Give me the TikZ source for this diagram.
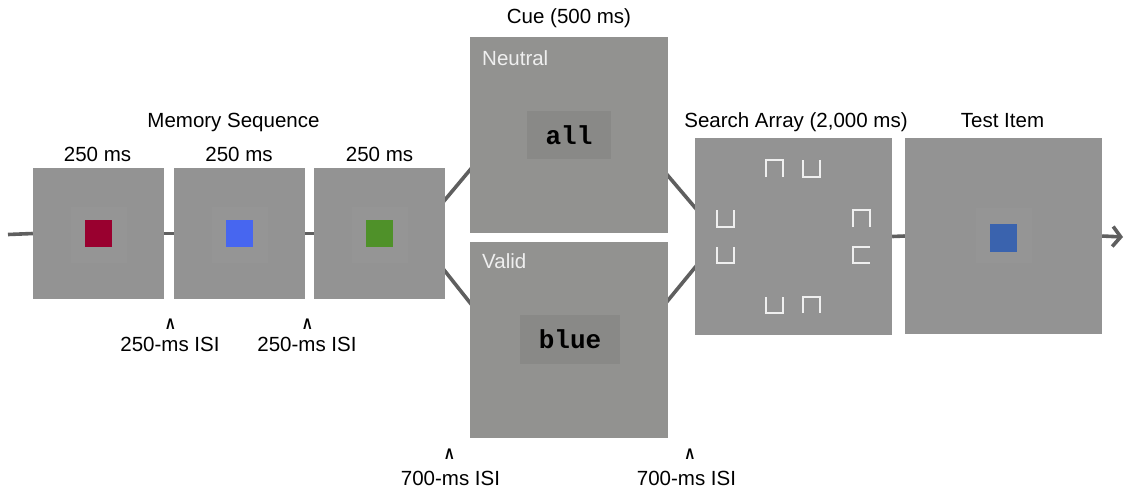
\documentclass[tikz,border=0pt]{standalone}
\usepackage{fontspec}
\setmainfont{Liberation Sans}
\newfontfamily\monob{Liberation Mono}
\newfontfamily\caretfont{DejaVu Sans}
\usetikzlibrary{arrows.meta,backgrounds}
\definecolor{panelgray}{HTML}{939393}
\definecolor{cuegray}{HTML}{929290}
\definecolor{innergray}{HTML}{959595}
\definecolor{wordgray}{HTML}{898987}
\definecolor{linegray}{HTML}{5F5F5F}
\definecolor{memred}{HTML}{99002F}
\definecolor{memblue}{HTML}{4766F0}
\definecolor{memgreen}{HTML}{4F9129}
\definecolor{testblue}{HTML}{3A63AE}
\definecolor{symwhite}{HTML}{EFEFEF}
\begin{document}
\begin{tikzpicture}[x=1pt,y=-1pt,
  panel/.style={rectangle,fill=panelgray,inner sep=0pt,minimum width=131pt,minimum height=131pt},
  bigpanel/.style={rectangle,fill=panelgray,inner sep=0pt,minimum width=197pt,minimum height=197pt},
  cuepanel/.style={rectangle,fill=cuegray,inner sep=0pt,minimum width=198pt,minimum height=196pt},
  innersq/.style={rectangle,fill=innergray,inner sep=0pt,minimum width=56pt,minimum height=56pt},
  patch/.style={rectangle,fill=#1,inner sep=0pt,minimum width=27pt,minimum height=27pt},
  wordbox/.style={rectangle,fill=wordgray,inner sep=0pt,minimum height=48pt},
  lbl/.style={inner sep=0pt,anchor=base,font=\fontsize{20.5}{24}\selectfont},
  caret/.style={inner sep=0pt,anchor=base,font=\caretfont\bfseries\fontsize{14.5}{16}\selectfont},
  cuelbl/.style={inner sep=0pt,anchor=base west,text=symwhite,font=\fontsize{20.5}{24}\selectfont},
  word/.style={inner sep=0pt,font=\monob\bfseries\fontsize{26}{28}\selectfont},
  conn/.style={draw=linegray,line width=3.6pt},
  sym/.style={draw=symwhite,line width=1.8pt}]
\useasboundingbox (0,0) rectangle (1125,488);

% memory sequence
\node[panel] (m1) at (98.5,233.5) {};
\node[panel] (m2) at (239.5,233.5) {};
\node[panel] (m3) at (379.5,233.5) {};
\node[innersq] (i1) at (98.5,234.5) {};
\node[innersq] (i2) at (239.5,234.5) {};
\node[innersq] (i3) at (379.5,234.5) {};
\node[patch=memred] (p1) at (98.5,233.5) {};
\node[patch=memblue] (p2) at (239.5,233.5) {};
\node[patch=memgreen] (p3) at (379.5,233.5) {};

\node[lbl] (memt) at (233.5,127) {Memory Sequence};
\node[lbl] (d1) at (97.5,161.5) {250 ms};
\node[lbl] (d2) at (239,161.5) {250 ms};
\node[lbl] (d3) at (379.5,161.5) {250 ms};

\node[caret] (c1) at (170.5,329) {\scalebox{0.72}[1]{Λ}};
\node[lbl] (isi1) at (170,351.5) {250-ms ISI};
\node[caret] (c2) at (307.5,329) {\scalebox{0.72}[1]{Λ}};
\node[lbl] (isi2) at (307,351.5) {250-ms ISI};

% cue
\node[cuepanel] (neu) at (568.5,135) {};
\node[cuepanel] (val) at (569,340) {};
\node[lbl] (cuet) at (569,23) {Cue (500 ms)};
\node[cuelbl] (neut) at (482,65) {Neutral};
\node[cuelbl] (valt) at (482,268.5) {Valid};
\node[wordbox,minimum width=84pt] (wa) at (569,135) {};
\node[wordbox,minimum width=100pt,minimum height=49pt] (wb) at (570,339.5) {};
\node[word] (all) at (569,135) {all};
\node[word] (blue) at (570,339.5) {blue};

\node[caret] (c3) at (449.5,459.5) {\scalebox{0.72}[1]{Λ}};
\node[lbl] (isi3) at (450.5,485) {700-ms ISI};
\node[caret] (c4) at (690,459.5) {\scalebox{0.72}[1]{Λ}};
\node[lbl] (isi4) at (686.5,485) {700-ms ISI};

% search array
\node[bigpanel] (sa) at (793.5,236.5) {};
\node[lbl] (sat) at (796,127) {Search Array (2,000 ms)};
\draw[sym] (766,177) |- (783,160) -- (783,177);
\draw[sym] (803,160) |- (820,177) -- (820,160);
\draw[sym] (717,210) |- (734,227) -- (734,210);
\draw[sym] (717,247) |- (734,263) -- (734,247);
\draw[sym] (853,227) |- (870,210) -- (870,227);
\draw[sym] (870,247) -| (853,263) -- (870,263);
\draw[sym] (766,297) |- (783,313) -- (783,297);
\draw[sym] (803,313) |- (820,297) -- (820,313);

% test item
\node[bigpanel,minimum height=196pt] (ti) at (1003.5,236) {};
\node[innersq,minimum height=55pt] (i4) at (1003.5,235.5) {};
\node[patch=testblue,minimum height=28pt] (p4) at (1003.5,238) {};
\node[lbl] (tit) at (1002.5,127) {Test Item};

% connectors
\coordinate (start) at (8,234.5);
\coordinate (jL) at (416,234.5);
\coordinate (nIn) at (490,146);
\coordinate (vIn) at (490,328);
\coordinate (nOut) at (647,151);
\coordinate (vOut) at (647,326);
\coordinate (jR) at (720,237);
\coordinate (end) at (1123,237);
\begin{scope}[on background layer]
\draw[conn] (start) -- (m1.west);
\draw[conn] (m1.east) -- (m2.west);
\draw[conn] (m2.east) -- (m3.west);
\draw[conn] (jL) -- (nIn) -- (nOut) -- (jR);
\draw[conn] (jL) -- (vIn) -- (vOut) -- (jR);
\draw[conn] (sa.east) -- (ti.west);
\end{scope}
\draw[conn,-{Straight Barb[length=8pt,width=20pt]}] (ti.east) -- (end);
\end{tikzpicture}
\end{document}
